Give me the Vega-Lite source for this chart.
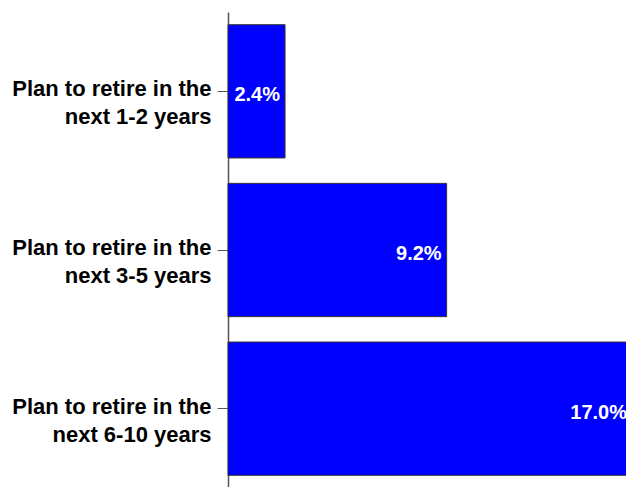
{
  "$schema": "https://vega.github.io/schema/vega-lite/v6.json",
  "autosize": "none",
  "padding": {"left": 228, "top": 12, "right": 0, "bottom": 0},
  "width": 404,
  "height": 476,
  "background": "white",
  "data": {"values": [
    {"group": "Plan to retire in the|next 1-2 years", "value": 2.4, "label": "2.4%"},
    {"group": "Plan to retire in the|next 3-5 years", "value": 9.2, "label": "9.2%"},
    {"group": "Plan to retire in the|next 6-10 years", "value": 17.0, "label": "17.0%"}
  ]},
  "config": {"view": {"stroke": null}},
  "encoding": {
    "y": {
      "field": "group", "type": "nominal", "sort": null,
      "scale": {"paddingInner": 0.16, "paddingOuter": 0.08},
      "axis": {
        "title": null,
        "labelExpr": "split(datum.label, '|')",
        "labelFont": "Liberation Sans",
        "labelFontWeight": "bold",
        "labelFontSize": 22,
        "labelLineHeight": 28,
        "labelColor": "black",
        "labelAlign": "right",
        "labelOffset": -2,
        "labelPadding": 6,
        "labelLimit": 300,
        "tickSize": 11,
        "tickColor": "#555555",
        "domainColor": "#555555",
        "tickWidth": 1,
        "domainWidth": 1.5,
        "grid": false
      }
    },
    "x": {
      "field": "value", "type": "quantitative",
      "scale": {"domain": [0, 17], "nice": false},
      "axis": null
    }
  },
  "layer": [
    {"mark": {"type": "bar", "color": "#0000FF", "stroke": "#333333", "strokeWidth": 1}},
    {"mark": {"type": "text", "align": "right", "baseline": "middle", "dx": -5, "dy": 4, "color": "white", "font": "Liberation Sans", "fontWeight": "bold", "fontSize": 20},
     "encoding": {"text": {"field": "label"}}}
  ]
}
